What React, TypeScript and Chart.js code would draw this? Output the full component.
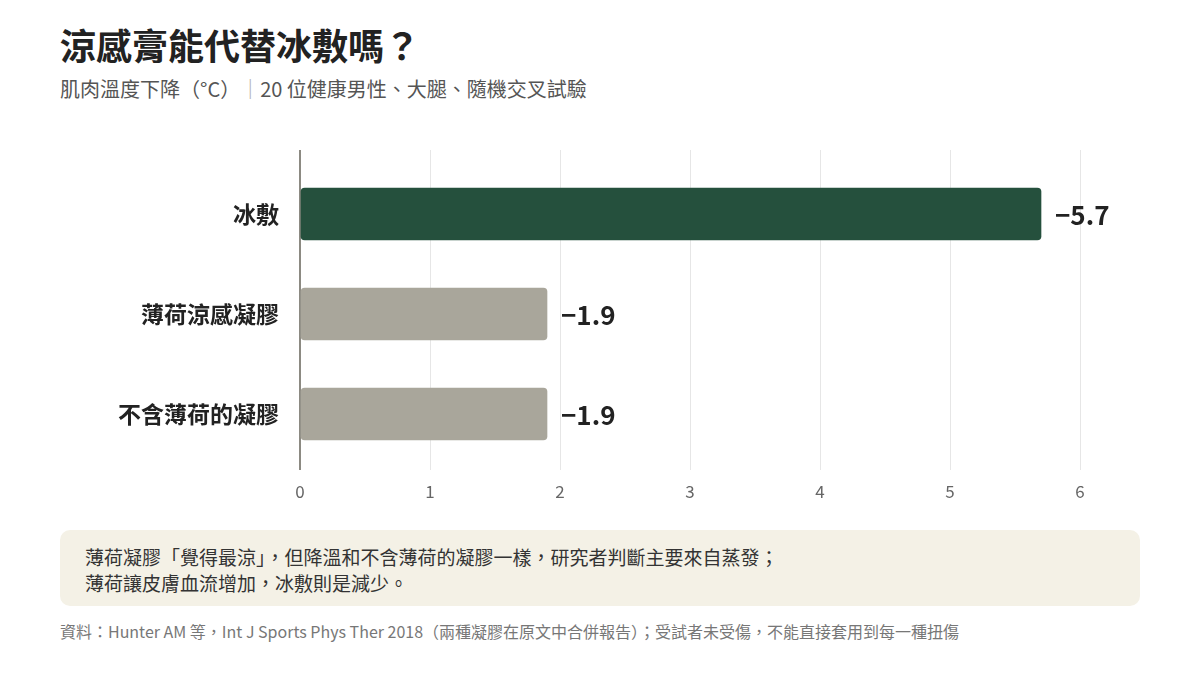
import React, { useEffect, useRef } from "react"
import { Chart, registerables } from "chart.js"

Chart.register(...registerables)

const categories = ["冰敷", "薄荷涼感凝膠", "不含薄荷的凝膠"]
const tempChange = [-5.7, -1.9, -1.9]
const barColors = ["#25503d", "#a9a69b", "#a9a69b"]
const xTicks = [0, 1, 2, 3, 4, 5, 6]

const FONT = "'Noto Sans CJK TC', 'Noto Sans', sans-serif"

const valueLabels = {
  id: "valueLabels",
  afterDatasetsDraw(chart: Chart) {
    const ctx = chart.ctx
    const meta = chart.getDatasetMeta(0)
    ctx.save()
    ctx.font = `bold 26px ${FONT}`
    ctx.fillStyle = "#222"
    ctx.textAlign = "left"
    ctx.textBaseline = "middle"
    meta.data.forEach((bar: any, i: number) => {
      const v = tempChange[i]
      const txt = (v < 0 ? "\u2212" : "") + Math.abs(v).toFixed(1)
      ctx.fillText(txt, bar.x + 14, bar.y + 1)
    })
    ctx.restore()
  },
}

const BarChart: React.FC = () => {
  const chartRef = useRef<HTMLCanvasElement | null>(null)

  useEffect(() => {
    if (!chartRef.current) return
    const ctx = chartRef.current.getContext("2d")
    if (!ctx) return
    const chart = new Chart(ctx, {
      type: "bar",
      data: {
        datasets: [
          {
            data: tempChange.map((v, i) => ({ x: Math.abs(v), y: i })),
            backgroundColor: barColors,
            borderRadius: 4,
            borderSkipped: false,
            barThickness: 52,
          },
        ],
      },
      options: {
        indexAxis: "y",
        animation: false,
        responsive: false,
        maintainAspectRatio: false,
        layout: { padding: { top: 10, right: 120, left: 0, bottom: 0 } },
        plugins: {
          legend: { display: false },
          tooltip: { enabled: false },
        },
        scales: {
          x: {
            type: "linear",
            min: 0,
            max: 6,
            bounds: "data",
            afterBuildTicks: (scale: any) => {
              scale.ticks = xTicks.map((v) => ({ value: v }))
            },
            afterFit: (scale: any) => {
              scale.height = 40
              scale.paddingLeft = 0
              scale.paddingRight = 0
            },
            grid: {
              drawTicks: false,
              color: (c: any) => (c.tick && c.tick.value === 0 ? "#8c8a82" : "#e6e6e6"),
              lineWidth: (c: any) => (c.tick && c.tick.value === 0 ? 2 : 1),
            },
            border: { display: false },
            ticks: {
              padding: 11,
              color: "#666",
              font: { family: FONT, size: 17 },
            },
          },
          y: {
            type: "linear",
            reverse: true,
            offset: false,
            min: -0.64,
            max: 2.56,
            bounds: "data",
            afterBuildTicks: (scale: any) => {
              scale.ticks = categories.map((_, i) => ({ value: i }))
            },
            afterFit: (scale: any) => {
              scale.width = 300
              scale.paddingTop = 0
              scale.paddingBottom = 0
            },
            grid: { display: false, drawTicks: false, offset: false },
            border: { display: false },
            ticks: {
              autoSkip: false,
              padding: 21,
              color: "#222",
              font: { family: FONT, size: 23, weight: "bold" },
              callback: (v: any) => categories[v] ?? "",
            },
          },
        },
      },
      plugins: [valueLabels],
    })
    return () => {
      chart.destroy()
    }
  }, [])

  return <canvas ref={chartRef} width={1200} height={370} style={{ position: "absolute", left: 0, top: 140 }} />
}

const App: React.FC = () => {
  useEffect(() => {
    document.body.style.margin = "0"
    document.body.style.background = "#fff"
  }, [])

  return (
    <div style={{ position: "relative", width: 1200, height: 675, background: "#fff", fontFamily: FONT, overflow: "hidden" }}>
      <div style={{ position: "absolute", left: 60, top: 21, fontSize: 36, lineHeight: "46px", fontWeight: 700, color: "#222" }}>
        涼感膏能代替冰敷嗎？
      </div>
      <div style={{ position: "absolute", left: 60, top: 76, fontSize: 20, lineHeight: "26px", color: "#555" }}>
        肌肉溫度下降（°C）<span style={{ color: "#aaa" }}>｜</span>20 位健康男性、大腿、隨機交叉試驗
      </div>
      <BarChart />
      <div
        style={{
          position: "absolute",
          left: 60,
          top: 530,
          width: 1080,
          height: 76,
          boxSizing: "border-box",
          padding: "14px 25px 0",
          background: "#f4f1e6",
          borderRadius: 10,
          fontSize: 19,
          lineHeight: "26px",
          color: "#333",
        }}
      >
        <div>薄荷凝膠「覺得最涼」，但降溫和不含薄荷的凝膠一樣，研究者判斷主要來自蒸發；</div>
        <div>薄荷讓皮膚血流增加，冰敷則是減少。</div>
      </div>
      <div style={{ position: "absolute", left: 60, top: 621, fontSize: 16, lineHeight: "20px", color: "#777" }}>
        資料：Hunter AM 等，Int J Sports Phys Ther 2018（兩種凝膠在原文中合併報告）；受試者未受傷，不能直接套用到每一種扭傷
      </div>
    </div>
  )
}

export default App
